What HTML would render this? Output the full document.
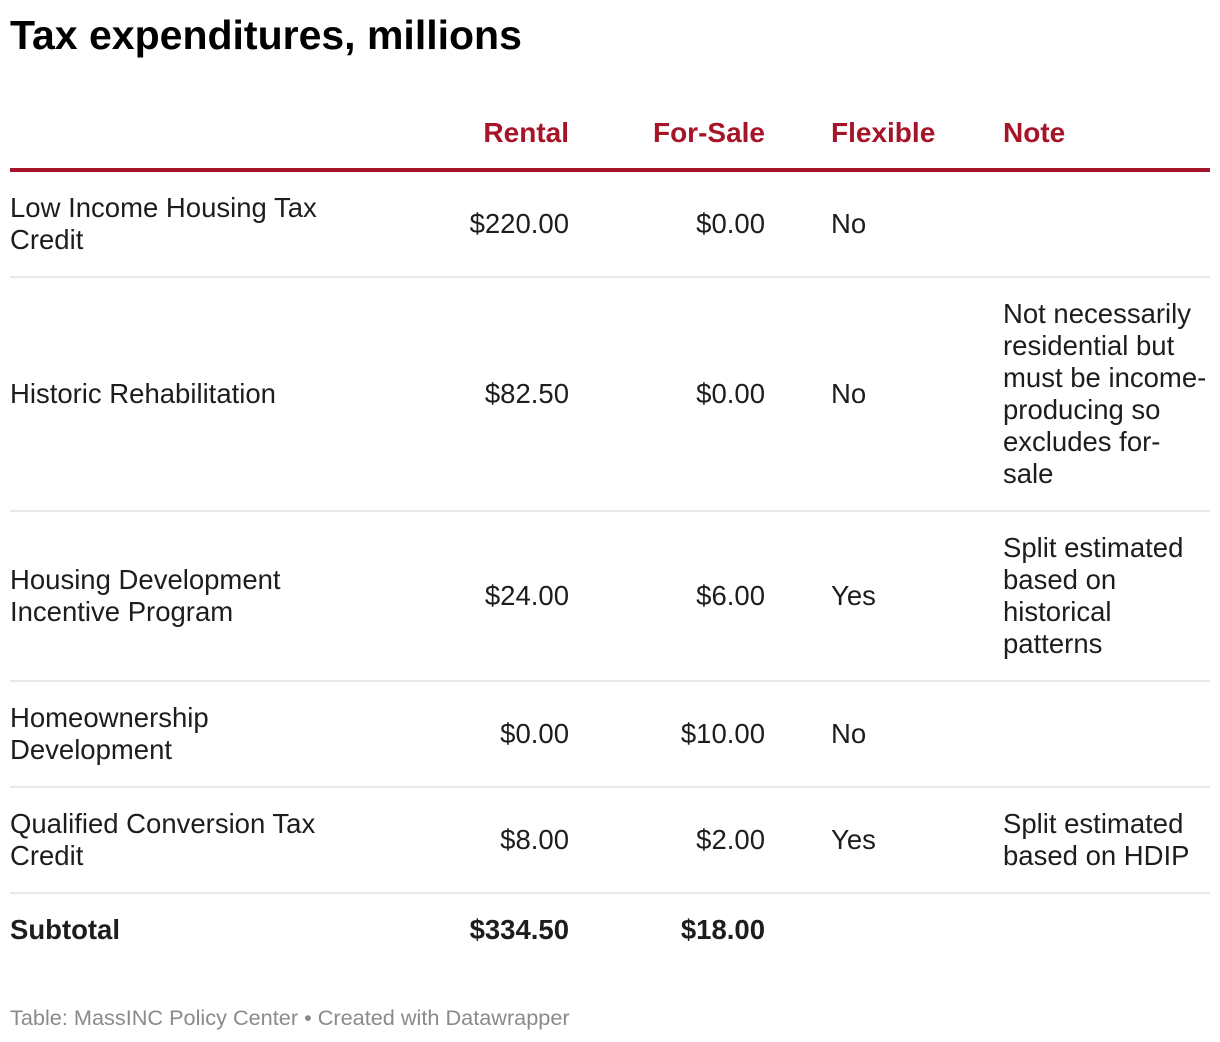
<!DOCTYPE html>
<html><head><meta charset="utf-8"><style>
body{margin:0;width:1220px;height:1042px;background:#fff;font-family:"Liberation Sans",Arial,sans-serif;color:#1d1d1d;position:relative;overflow:hidden}
.a{position:absolute;white-space:nowrap;line-height:32px;font-size:27.5px}
.r{text-align:right}
.h{color:#a51427;font-weight:bold;font-size:28px}
.b{font-weight:bold}
.sep{position:absolute;left:10px;width:1200px;height:2px;background:#e8e8e8}
</style></head><body>
<div class="a b" style="left:10px;top:12px;font-size:41px;line-height:46px;color:#000">Tax expenditures, millions</div>

<div class="a h r" style="right:651px;top:117px">Rental</div>
<div class="a h r" style="right:455px;top:117px">For-Sale</div>
<div class="a h" style="left:831px;top:117px">Flexible</div>
<div class="a h" style="left:1003px;top:117px">Note</div>
<div style="position:absolute;left:10px;top:168px;width:1200px;height:4px;background:#a51427"></div>

<div class="a" style="left:10px;top:192px">Low Income Housing Tax<br>Credit</div>
<div class="a r" style="right:651px;top:208px">$220.00</div>
<div class="a r" style="right:455px;top:208px">$0.00</div>
<div class="a" style="left:831px;top:208px">No</div>
<div class="sep" style="top:276px"></div>

<div class="a" style="left:10px;top:378px">Historic Rehabilitation</div>
<div class="a r" style="right:651px;top:378px">$82.50</div>
<div class="a r" style="right:455px;top:378px">$0.00</div>
<div class="a" style="left:831px;top:378px">No</div>
<div class="a" style="left:1003px;top:298px">Not necessarily<br>residential but<br>must be income-<br>producing so<br>excludes for-<br>sale</div>
<div class="sep" style="top:510px"></div>

<div class="a" style="left:10px;top:564px">Housing Development<br>Incentive Program</div>
<div class="a r" style="right:651px;top:580px">$24.00</div>
<div class="a r" style="right:455px;top:580px">$6.00</div>
<div class="a" style="left:831px;top:580px">Yes</div>
<div class="a" style="left:1003px;top:532px">Split estimated<br>based on<br>historical<br>patterns</div>
<div class="sep" style="top:680px"></div>

<div class="a" style="left:10px;top:702px">Homeownership<br>Development</div>
<div class="a r" style="right:651px;top:718px">$0.00</div>
<div class="a r" style="right:455px;top:718px">$10.00</div>
<div class="a" style="left:831px;top:718px">No</div>
<div class="sep" style="top:786px"></div>

<div class="a" style="left:10px;top:808px">Qualified Conversion Tax<br>Credit</div>
<div class="a r" style="right:651px;top:824px">$8.00</div>
<div class="a r" style="right:455px;top:824px">$2.00</div>
<div class="a" style="left:831px;top:824px">Yes</div>
<div class="a" style="left:1003px;top:808px">Split estimated<br>based on HDIP</div>
<div class="sep" style="top:892px"></div>

<div class="a b" style="left:10px;top:914px">Subtotal</div>
<div class="a b r" style="right:651px;top:914px">$334.50</div>
<div class="a b r" style="right:455px;top:914px">$18.00</div>

<div class="a" style="left:10px;top:1005px;font-size:21.7px;line-height:26px;color:#8a8a8a">Table: MassINC Policy Center • Created with Datawrapper</div>
</body></html>
